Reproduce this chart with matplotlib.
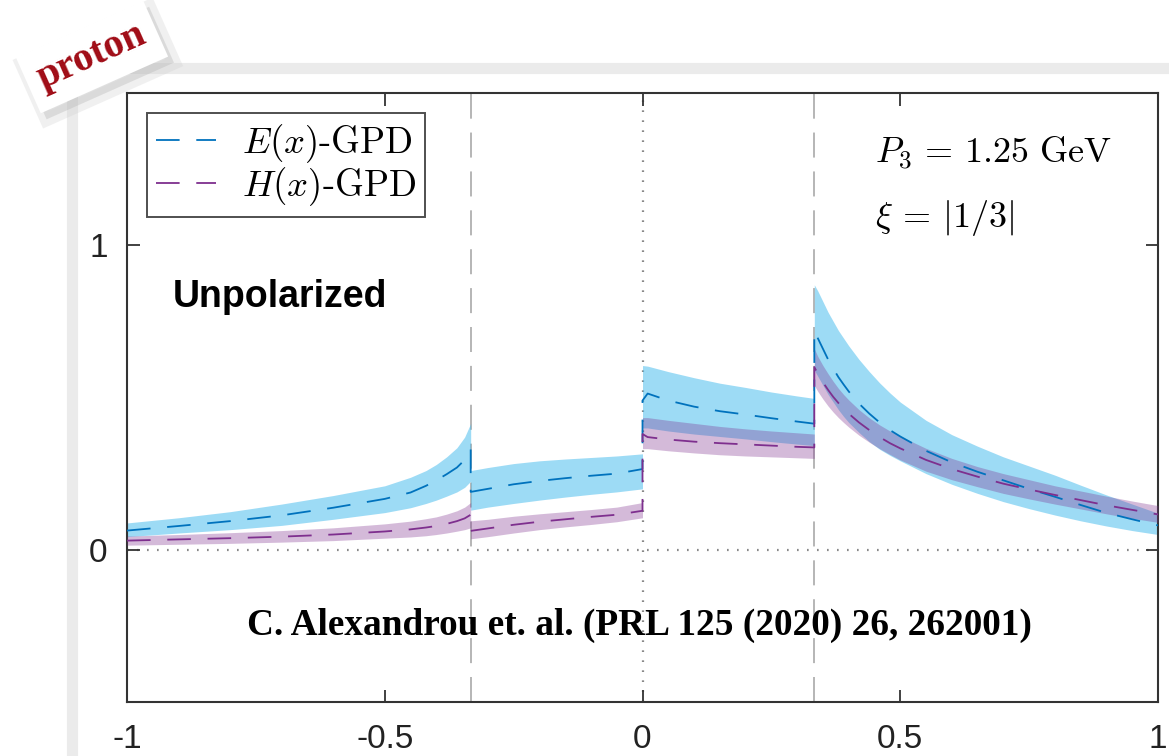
import numpy as np
import matplotlib
matplotlib.use("Agg")
import matplotlib.pyplot as plt
from matplotlib.patches import Rectangle

plt.rcParams['mathtext.fontset'] = 'cm'
plt.rcParams['lines.scale_dashes'] = False

# ---- data ----
x1 = [-1.0, -0.9, -0.8, -0.7, -0.6, -0.5, -0.45, -0.42, -0.4, -0.38, -0.36, -0.345, -0.3333]
E1 = [0.063, 0.078, 0.094, 0.113, 0.138, 0.167, 0.188, 0.21, 0.228, 0.248, 0.27, 0.295, 0.33]
E1u = [0.088, 0.105, 0.125, 0.15, 0.178, 0.21, 0.238, 0.26, 0.28, 0.305, 0.335, 0.37, 0.415]
E1l = [0.043, 0.055, 0.066, 0.08, 0.1, 0.122, 0.138, 0.152, 0.163, 0.176, 0.19, 0.205, 0.225]
H1 = [0.03, 0.034, 0.038, 0.043, 0.05, 0.06, 0.067, 0.073, 0.078, 0.085, 0.094, 0.103, 0.115]
H1u = [0.045, 0.05, 0.056, 0.063, 0.072, 0.085, 0.094, 0.102, 0.108, 0.117, 0.128, 0.14, 0.155]
H1l = [0.015, 0.018, 0.021, 0.025, 0.03, 0.038, 0.042, 0.046, 0.05, 0.055, 0.061, 0.066, 0.072]

x2 = [-0.3333, -0.3, -0.25, -0.2, -0.15, -0.1, -0.05, 0.0]
E2 = [0.19, 0.2, 0.215, 0.226, 0.235, 0.243, 0.25, 0.265]
E2u = [0.26, 0.27, 0.283, 0.292, 0.298, 0.303, 0.308, 0.315]
E2l = [0.13, 0.14, 0.152, 0.163, 0.173, 0.182, 0.19, 0.2]
H2 = [0.062, 0.07, 0.082, 0.092, 0.1, 0.108, 0.115, 0.128]
H2u = [0.095, 0.1, 0.11, 0.118, 0.125, 0.132, 0.14, 0.155]
H2l = [0.036, 0.043, 0.055, 0.066, 0.075, 0.083, 0.092, 0.105]

x3 = [0.0, 0.01, 0.05, 0.1, 0.15, 0.2, 0.25, 0.3, 0.3333]
E3 = [0.49, 0.513, 0.49, 0.47, 0.455, 0.444, 0.432, 0.421, 0.414]
E3u = [0.605, 0.603, 0.585, 0.565, 0.547, 0.533, 0.518, 0.505, 0.497]
E3l = [0.40, 0.40, 0.39, 0.38, 0.372, 0.364, 0.355, 0.347, 0.342]
H3 = [0.38, 0.37, 0.362, 0.355, 0.35, 0.346, 0.342, 0.338, 0.336]
H3u = [0.434, 0.434, 0.425, 0.415, 0.405, 0.397, 0.39, 0.384, 0.38]
H3l = [0.332, 0.332, 0.325, 0.318, 0.312, 0.308, 0.305, 0.302, 0.3]

x4 = [0.3333, 0.34, 0.35, 0.36, 0.37, 0.38, 0.39, 0.4, 0.42, 0.44, 0.46, 0.48, 0.5,
      0.55, 0.6, 0.65, 0.7, 0.75, 0.8, 0.85, 0.9, 0.95, 1.0]
E4 = [0.72, 0.695, 0.66, 0.625, 0.595, 0.567, 0.543, 0.52, 0.48, 0.447, 0.418, 0.393, 0.372,
      0.325, 0.287, 0.256, 0.228, 0.2, 0.174, 0.147, 0.121, 0.1, 0.08]
E4u = [0.87, 0.85, 0.815, 0.78, 0.75, 0.72, 0.695, 0.67, 0.625, 0.585, 0.548, 0.515, 0.485,
       0.425, 0.378, 0.34, 0.305, 0.275, 0.245, 0.212, 0.18, 0.15, 0.12]
E4l = [0.59, 0.57, 0.54, 0.51, 0.485, 0.46, 0.438, 0.418, 0.385, 0.355, 0.33, 0.31, 0.292,
       0.25, 0.215, 0.185, 0.158, 0.135, 0.114, 0.095, 0.078, 0.063, 0.05]
H4 = [0.6, 0.578, 0.55, 0.525, 0.502, 0.482, 0.464, 0.447, 0.418, 0.393, 0.37, 0.35, 0.333,
      0.295, 0.265, 0.24, 0.217, 0.198, 0.18, 0.163, 0.146, 0.131, 0.116]
H4u = [0.66, 0.635, 0.605, 0.578, 0.553, 0.53, 0.51, 0.492, 0.46, 0.433, 0.41, 0.39, 0.373,
       0.333, 0.3, 0.273, 0.25, 0.23, 0.21, 0.193, 0.176, 0.16, 0.145]
H4l = [0.54, 0.52, 0.495, 0.472, 0.452, 0.434, 0.418, 0.403, 0.376, 0.353, 0.332, 0.313, 0.295,
       0.258, 0.23, 0.207, 0.185, 0.167, 0.15, 0.134, 0.118, 0.103, 0.09]

xticks = [-1, -0.5, 0, 0.5, 1]
xticklabels = ['-1', '-0.5', '0', '0.5', '1']
yticks = [0, 1]
yticklabels = ['0', '1']
labels = [r'$E(x)$-GPD', r'$H(x)$-GPD']

# ---- assemble ----
x = np.concatenate([x1, x2, x3, x4])
E = np.concatenate([E1, E2, E3, E4]); Eu = np.concatenate([E1u, E2u, E3u, E4u]); El = np.concatenate([E1l, E2l, E3l, E4l])
H = np.concatenate([H1, H2, H3, H4]); Hu = np.concatenate([H1u, H2u, H3u, H4u]); Hl = np.concatenate([H1l, H2l, H3l, H4l])

W, Hpx = 1169, 756
fig = plt.figure(figsize=(W / 100, Hpx / 100), dpi=100)
fig.patch.set_facecolor('white')

# card frame in the background
fig.patches.append(Rectangle((72 / W, -0.1), 1.2, (756 - 68) / Hpx + 0.1, transform=fig.transFigure,
                             fill=False, edgecolor='#ebebeb', lw=8, zorder=0))

ax = fig.add_axes([127 / W, (Hpx - 702) / Hpx, (1158 - 127) / W, (702 - 93) / Hpx])
ax.set_xlim(-1, 1)
ax.set_ylim(-0.5, 1.5)

blue_line = '#0072BD'
blue_fill = '#4DBEEE'
purp_line = '#7E2F8E'

ax.fill_between(x, El, Eu, color=blue_fill, alpha=0.55, lw=0, zorder=2)
ax.fill_between(x, Hl, Hu, color=purp_line, alpha=0.33, lw=0, zorder=3)
dash = (0, (17, 12))
lE, = ax.plot(x, E, color=blue_line, lw=1.3, ls=dash, zorder=5, label=labels[0])
lH, = ax.plot(x, H, color=purp_line, lw=1.3, ls=dash, zorder=5, label=labels[1])

ax.axhline(0, color='#888888', lw=1.6, ls=(0, (1.2, 6)), zorder=1)
ax.axvline(0, color='#888888', lw=1.6, ls=(0, (1.2, 6)), zorder=1)
for xv in (-1 / 3, 1 / 3):
    ax.axvline(xv, color='#b5b5b5', lw=1.4, ls=(0, (18, 10)), zorder=1)

for s in ax.spines.values():
    s.set_linewidth(1.5)
    s.set_color('#333333')
ax.set_xticks(xticks)
ax.set_xticklabels(xticklabels)
ax.set_yticks(yticks)
ax.set_yticklabels(yticklabels)
ax.tick_params(direction='in', length=9, width=1.3, color='#333333', top=True, right=True,
               labelsize=24, labelcolor='#222222')
ax.tick_params(axis='x', pad=16)
ax.tick_params(axis='y', pad=14)
for t in ax.get_xticklabels() + ax.get_yticklabels():
    t.set_family('Liberation Sans')

leg = ax.legend(handles=[lE, lH], loc='upper left', bbox_to_anchor=(0.019, 0.967),
                prop={'family': 'cmr10', 'size': 26.5}, frameon=True, fancybox=False,
                edgecolor='#222222', handlelength=1.63, handletextpad=0.7, borderpad=0.25,
                labelspacing=0.0, borderaxespad=0)
leg.get_frame().set_linewidth(1.4)

fig.text(875 / W, 1 - 163 / Hpx, r'$P_3\,=\,1.25\ \mathrm{GeV}$', fontsize=26, va='baseline', ha='left')
fig.text(875 / W, 1 - 227 / Hpx, r'$\xi\,=\,|1/3|$', fontsize=26, va='baseline', ha='left')

fig.text(173 / W, 1 - 307 / Hpx, 'Unpolarized', family='Liberation Sans', weight='bold',
         fontsize=27, va='baseline', ha='left')
fig.text(247 / W, 1 - 635 / Hpx, 'C. Alexandrou et. al. (PRL 125 (2020) 26, 262001)',
         family='Liberation Serif', weight='bold', fontsize=26.8, va='baseline', ha='left')

# "proton" tag
fig.text(92 / W + 0.005, 1 - 57 / Hpx - 0.008, 'proton', family='Liberation Serif', weight='bold',
         fontsize=29, rotation=24, ha='center', va='center', color=(0, 0, 0, 0),
         bbox=dict(boxstyle='square,pad=0.3', fc='#9a9a9a', ec='#cfcfcf', lw=10, alpha=0.3))
fig.text(92 / W, 1 - 57 / Hpx, 'proton', family='Liberation Serif', weight='bold',
         fontsize=29, rotation=24, ha='center', va='center', color='#a00c16',
         bbox=dict(boxstyle='square,pad=0.3', fc='white', ec='none'))

fig.savefig('out.png', dpi=100)
